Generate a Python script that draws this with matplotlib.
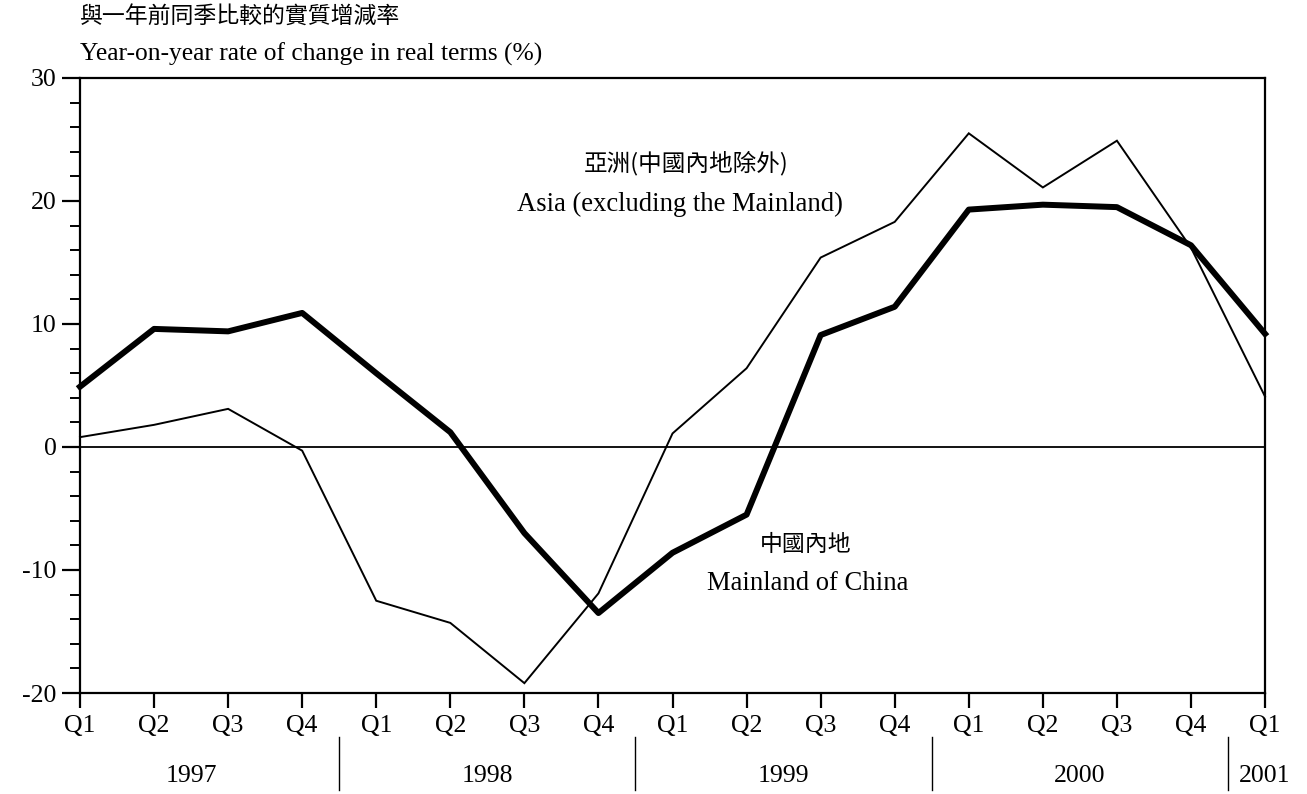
import numpy as np
import matplotlib.pyplot as plt
from matplotlib.transforms import blended_transform_factory

plt.rcParams['font.family'] = ['Liberation Serif', 'Noto Sans CJK TC', 'DejaVu Sans']
plt.rcParams['axes.unicode_minus'] = False

# Quarterly data, Q1 1997 to Q1 2001
quarters = ['Q1', 'Q2', 'Q3', 'Q4'] * 4 + ['Q1']
years = ['1997', '1998', '1999', '2000', '2001']
quarter_year = [y for y in years[:4] for _ in range(4)] + ['2001']

mainland = [4.9, 9.6, 9.4, 10.9, 6.0, 1.2, -7.0, -13.5,
            -8.6, -5.5, 9.1, 11.4, 19.3, 19.7, 19.5, 16.4, 9.2]
asia = [0.8, 1.8, 3.1, -0.3, -12.5, -14.3, -19.2, -11.9,
        1.1, 6.4, 15.4, 18.3, 25.5, 21.1, 24.9, 16.2, 4.1]

fig = plt.figure(figsize=(13.07, 7.94), dpi=100)
ax = fig.add_axes([0.0612, 0.1272, 0.9067, 0.7746])

x = np.arange(len(quarters))
ax.plot(x, asia, color='black', lw=1.4, solid_joinstyle='miter', clip_on=False)
ax.plot(x, mainland, color='black', lw=4.3, solid_joinstyle='round', clip_on=False)
ax.axhline(0, color='black', lw=1.3)

ax.set_xlim(0, len(quarters) - 1)
ax.set_ylim(-20, 30)

for s in ax.spines.values():
    s.set_linewidth(1.6)

ax.set_yticks(np.arange(-20, 31, 10))
ax.set_yticks(np.arange(-20, 31, 2), minor=True)
ax.tick_params(axis='y', which='major', direction='out', length=13, width=1.6,
               labelsize=18.5, pad=4)
ax.tick_params(axis='y', which='minor', direction='out', length=7, width=1.4)
ax.set_xticks(x)
ax.set_xticklabels(quarters)
ax.tick_params(axis='x', direction='out', length=11, width=1.6, labelsize=18.5, pad=5)

# year labels and separators under the quarter labels
trans = blended_transform_factory(ax.transData, ax.transAxes)
for yr in years:
    idx = [i for i, q in enumerate(quarter_year) if q == yr]
    ax.text(np.mean(idx), -0.135, yr, transform=trans, ha='center', va='center',
            fontsize=18.5)
    if idx[0] > 0:
        ax.plot([idx[0] - 0.5] * 2, [-0.072, -0.158], transform=trans,
                color='black', lw=1.0, clip_on=False)

# headings
fig.text(0.0612, 0.979, '與一年前同季比較的實質增減率', fontsize=16.5,
         ha='left', va='center', family=['Noto Sans CJK TC'])
fig.text(0.0612, 0.931, 'Year-on-year rate of change in real terms (%)',
         fontsize=18.4, ha='left', va='center')

# series labels
ax.text(8.18, 23.1, '亞洲(中國內地除外)', fontsize=17, ha='center', va='center',
        family=['Noto Sans CJK TC'])
ax.text(8.10, 19.7, 'Asia (excluding the Mainland)', fontsize=19.2,
        ha='center', va='center')
ax.text(9.79, -7.9, '中國內地', fontsize=16.5, ha='center', va='center',
        family=['Noto Sans CJK TC'])
ax.text(9.83, -11.1, 'Mainland of China', fontsize=19.2, ha='center', va='center')

fig.savefig('out.png', dpi=100)
